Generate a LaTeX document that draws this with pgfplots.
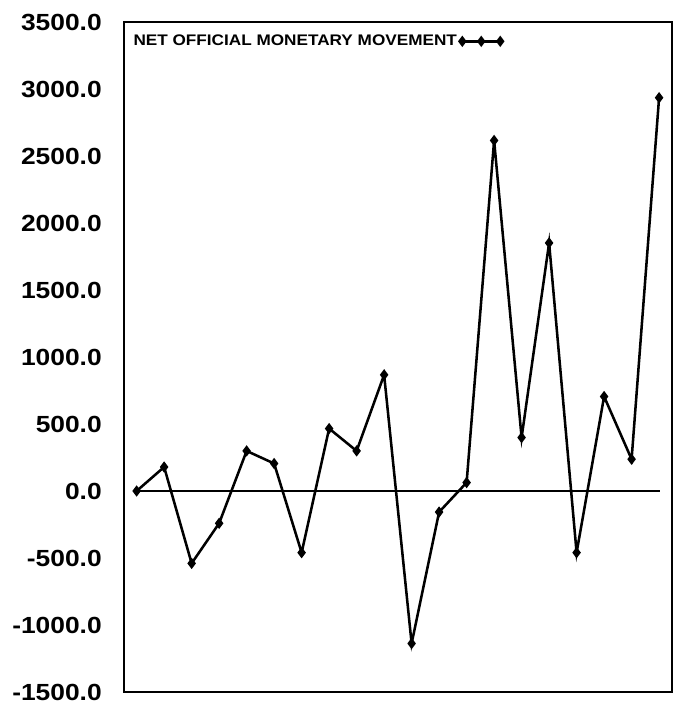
\documentclass[border=0pt]{standalone}
\usepackage{pgfplots}
\pgfplotsset{compat=1.18}
\usepackage{fontspec}
\setmainfont{Liberation Sans}
\newfontfamily\legfont[FakeStretch=1.12]{Liberation Sans}
\newfontfamily\tickfont[FakeStretch=1.13]{Liberation Sans}
\begin{document}
\begin{tikzpicture}
\begin{axis}[
  scale only axis, width=411pt, height=502.5pt,
  xmin=0.54, xmax=20.47, ymin=-1500, ymax=3500,
  xtick=\empty, ytick={-1500,-1000,...,3500},
  major tick length=0pt,
  axis line style={line width=1.4pt},
  yticklabel style={font=\tickfont\bfseries\fontsize{17.5}{20}\selectfont, inner sep=0pt},
  yticklabel shift=16.5pt,
  /pgf/number format/.cd, fixed, fixed zerofill, precision=1, 1000 sep={}, assume math mode=true, /pgfplots/.cd,
  legend style={draw=none, fill=none, at={(0.012,0.985)}, anchor=north west,
    font=\legfont\bfseries\fontsize{11.5}{13}\selectfont, inner sep=0pt},
  legend plot pos=right,
  legend image code/.code={\draw[#1] plot coordinates {(0cm,0cm) (0.5cm,0cm) (1.0cm,0cm)};},
]
\addplot[black, line width=1.1pt, forget plot] coordinates {(0.865,0) (20.04,0)};
\addplot[black, line width=1.9pt, mark=diamond*, mark size=2.7pt, mark options={solid}] coordinates {
(1,0) (2,179) (3,-540) (4,-241) (5,299) (6,205) (7,-460) (8,466) (9,299) (10,867)
(11,-1138) (12,-157) (13,63) (14,2616) (15,399) (16,1851) (17,-460) (18,705) (19,237) (20,2935)};
\addlegendentry{NET OFFICIAL MONETARY MOVEMENT}
\end{axis}
\pgfresetboundingbox
\path[use as bounding box] ([shift={(-93pt,-9pt)}]current axis.south west) rectangle ([shift={(3.75pt,16.5pt)}]current axis.north east);
\end{tikzpicture}
\end{document}
